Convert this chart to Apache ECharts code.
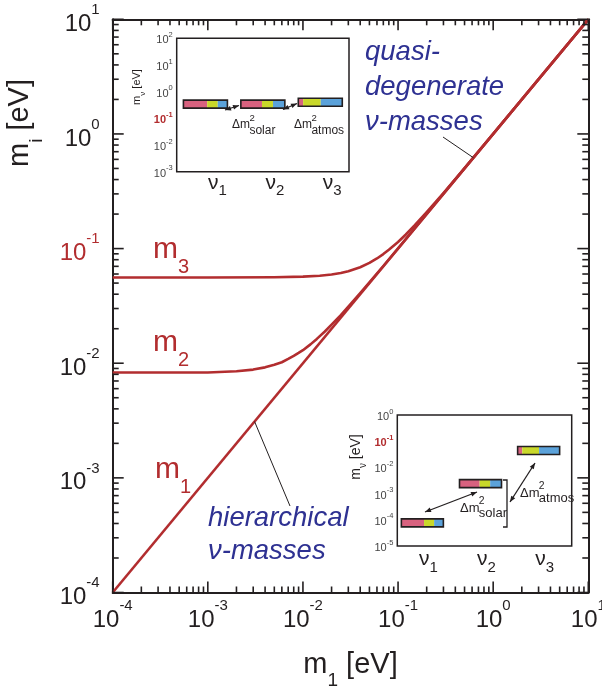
<!DOCTYPE html>
<html><head><meta charset="utf-8">
<script src="https://cdn.jsdelivr.net/npm/echarts@6/dist/echarts.min.js"></script>
<style>html,body{margin:0;padding:0;background:#fff}#c{width:602px;height:686px}</style>
</head><body><div id="c"></div>
<script>
// ---------- data ----------
const decadeTicks = [1e-4, 1e-3, 1e-2, 1e-1, 1, 10];
const minorMultipliers = [2, 3, 4, 5, 6, 7, 8, 9];
const topInsetDecades = [1e-3, 1e-2, 1e-1, 1, 10, 100];
const bottomInsetDecades = [1e-5, 1e-4, 1e-3, 1e-2, 1e-1, 1];

const m1X = [1e-4, 10];
const m1Y = [1e-4, 10];

const m2X = [1e-4, 1e-3, 2e-3, 3e-3, 4e-3, 5e-3, 6e-3, 7e-3, 8e-3, 9e-3, 1e-2, 1.2e-2, 1.4e-2, 1.7e-2, 2e-2, 2.5e-2, 3e-2, 4e-2, 5e-2, 7e-2, 0.1, 1, 10];
const m2Y = [0.0083, 0.0083, 0.0085, 0.0088, 0.0092, 0.0097, 0.0102, 0.0109, 0.0116, 0.0123, 0.0130, 0.0146, 0.0163, 0.0189, 0.0217, 0.0263, 0.0311, 0.0409, 0.0507, 0.0705, 0.1003, 1, 10];

const m3X = [1e-4, 1e-3, 5e-3, 1e-2, 1.5e-2, 2e-2, 2.5e-2, 3e-2, 4e-2, 5e-2, 6e-2, 7e-2, 8e-2, 0.1, 0.12, 0.15, 0.2, 0.3, 0.5, 1, 10];
const m3Y = [0.056, 0.056, 0.0562, 0.0569, 0.058, 0.0595, 0.0613, 0.0635, 0.0688, 0.075, 0.082, 0.0895, 0.0977, 0.114, 0.132, 0.16, 0.208, 0.305, 0.503, 1, 10];

const nuCategories = ['ν1', 'ν2', 'ν3'];
const degenerateMasses = [0.34, 0.34, 0.40];
const hierarchicalMasses = [7.6e-5, 2.4e-3, 0.044];
const electronFraction = [0.54, 0.48, 0.11];
const muonFraction = [0.24, 0.25, 0.40];
const tauFraction = [0.22, 0.27, 0.49];

// ---------- style ----------
const FONT = '"Liberation Sans", Arial, sans-serif';
const INK = '#231f20';
const RED = '#b22d2f';
const BLUE = '#2e3192';
const FLAVOR_COLORS = ['#d8627f', '#c9d82a', '#5ba2da'];

const zip = (xs, ys) => xs.map((x, i) => [x, ys[i]]);

function expLabel(redStyle) {
  return function (v) {
    const e = Math.round(Math.log10(v));
    if (e === -1 && redStyle) return '{rb|10}{rs|' + e + '}';
    return '{b|10}{s|' + e + '}';
  };
}
const mainRich = {
  b: {fontSize: 24, lineHeight: 34, verticalAlign: 'bottom', color: INK, fontFamily: FONT},
  s: {fontSize: 15, lineHeight: 15, verticalAlign: 'top', color: INK, fontFamily: FONT},
  rb: {fontSize: 24, lineHeight: 34, verticalAlign: 'bottom', color: RED, fontFamily: FONT},
  rs: {fontSize: 15, lineHeight: 15, verticalAlign: 'top', color: RED, fontFamily: FONT}
};
const insetRich = {
  b: {fontSize: 11, lineHeight: 15, verticalAlign: 'bottom', color: '#444', fontFamily: FONT},
  s: {fontSize: 7.5, lineHeight: 7.5, verticalAlign: 'top', color: '#444', fontFamily: FONT},
  rb: {fontSize: 11, lineHeight: 15, verticalAlign: 'bottom', color: RED, fontWeight: 'bold', fontFamily: FONT},
  rs: {fontSize: 7.5, lineHeight: 7.5, verticalAlign: 'top', color: RED, fontWeight: 'bold', fontFamily: FONT}
};
const nuRich = {
  n: {fontSize: 21, lineHeight: 26, verticalAlign: 'top', color: INK, fontFamily: FONT},
  d: {fontSize: 15, lineHeight: 15, verticalAlign: 'bottom', color: INK, fontFamily: FONT}
};
const nuFormatter = v => '{n|ν}{d|' + v.slice(1) + '}';

function logAxis(extra) {
  return Object.assign({
    type: 'log', logBase: 10, splitNumber: 5,
    axisLine: {show: true, onZero: false, lineStyle: {color: INK, width: 2}},
    axisTick: {show: false},
    minorTick: {show: false},
    splitLine: {show: false}
  }, extra);
}

// ---------- tick marks (scatter symbols placed through the axes) ----------
const mainTickValues = [];
decadeTicks.forEach(d => mainTickValues.push({v: d, len: 11}));
decadeTicks.slice(0, -1).forEach(d => minorMultipliers.forEach(k => mainTickValues.push({v: d * k, len: 6})));
const LO = 1e-4, HI = 10, TW = 1.6;
const mainTickData = [];
mainTickValues.forEach(({v, len}) => {
  mainTickData.push({value: [v, LO], symbolSize: [TW, len], symbolOffset: [0, -len / 2]});
  mainTickData.push({value: [v, HI], symbolSize: [TW, len], symbolOffset: [0, len / 2]});
  mainTickData.push({value: [LO, v], symbolSize: [len, TW], symbolOffset: [len / 2, 0]});
  mainTickData.push({value: [HI, v], symbolSize: [len, TW], symbolOffset: [-len / 2, 0]});
});
const insetTickData = decades => decades.slice(1, -1).map(d => ({value: [2.5, d], symbolSize: [7, 1.4], symbolOffset: [-3.5, 0]}));
const tickSeries = (xi, yi, data) => ({
  type: 'scatter', xAxisIndex: xi, yAxisIndex: yi, data: data, symbol: 'rect', silent: true, clip: false,
  itemStyle: {color: INK, opacity: 1}, z: 4, animation: false
});

// ---------- bars ----------
function barRenderer(width, height, shift) {
  return function (params, api) {
    const c = api.coord([api.value(0), api.value(1)]);
    const x0 = c[0] - width / 2 + shift, y0 = c[1] - height / 2;
    const fr = [api.value(2), api.value(3), api.value(4)];
    const children = [];
    let x = x0;
    fr.forEach((f, i) => {
      children.push({type: 'rect', shape: {x: x, y: y0, width: width * f, height: height}, style: {fill: FLAVOR_COLORS[i]}});
      x += width * f;
    });
    children.push({type: 'rect', shape: {x: x0, y: y0, width: width, height: height}, style: {fill: 'none', stroke: INK, lineWidth: 1.6}});
    return {type: 'group', children: children};
  };
}
const barData = masses => masses.map((m, i) => [i, m, electronFraction[i], muonFraction[i], tauFraction[i]]);

// ---------- annotation helpers ----------
function arrow(x1, y1, x2, y2, both, w) {
  const els = [{type: 'line', shape: {x1, y1, x2, y2}, style: {stroke: INK, lineWidth: w || 1.3}}];
  const head = (xa, ya, xb, yb) => {
    const a = Math.atan2(yb - ya, xb - xa), L = 6, W = 2.4;
    const bx = xb - L * Math.cos(a), by = yb - L * Math.sin(a);
    return {type: 'polygon', shape: {points: [[xb, yb], [bx - W * Math.sin(a), by + W * Math.cos(a)], [bx + W * Math.sin(a), by - W * Math.cos(a)]]}, style: {fill: INK}};
  };
  els.push(head(x1, y1, x2, y2));
  if (both) els.push(head(x2, y2, x1, y1));
  return els;
}
function txt(x, y, text, rich, opts) {
  return Object.assign({type: 'text', x: x, y: y,
    style: {text: text, rich: rich, fontFamily: FONT, align: 'left', verticalAlign: 'middle'}}, opts || {});
}
const tok = (size, fill, extra) => Object.assign({fontSize: size, fill: fill, fontFamily: FONT}, extra || {});
const mLabelRich = {
  m: tok(30, RED, {lineHeight: 42, verticalAlign: 'top'}),
  d: tok(20, RED, {lineHeight: 20, verticalAlign: 'bottom'})
};
const blueRich = {q: tok(27.5, BLUE, {fontStyle: 'italic'})};
function deltaLabel(x, y, sub, size, subSize) {
  const wDm = size * 1.45;
  return [
    txt(x, y, '{a|Δm}', {a: tok(size, INK)}),
    txt(x + wDm, y - size * 0.55, '{a|2}', {a: tok(size * 0.8, INK)}),
    txt(x + wDm, y + size * 0.45, '{a|' + sub + '}', {a: tok(subSize, INK)})
  ];
}
const axisNameRich = (big, small) => ({
  m: tok(big, INK, {lineHeight: big * 1.38, verticalAlign: 'top'}),
  d: tok(small, INK, {lineHeight: small, verticalAlign: 'bottom'})
});

const graphics = [].concat(
  [
    {type: 'text', x: 26, y: 123, rotation: Math.PI / 2,
      style: {text: '{m|m}{d|i}{m| [eV]}', align: 'center', verticalAlign: 'middle', rich: axisNameRich(29, 19)}},
    txt(153, 256, '{m|m}{d|3}', mLabelRich),
    txt(153, 349, '{m|m}{d|2}', mLabelRich),
    txt(155, 476, '{m|m}{d|1}', mLabelRich),
    txt(365, 52, '{q|quasi-}', blueRich),
    txt(365, 87, '{q|degenerate}', blueRich),
    txt(365, 122, '{q|ν-masses}', blueRich),
    txt(208, 518, '{q|hierarchical}', blueRich),
    txt(208, 551, '{q|ν-masses}', blueRich),
    {type: 'text', x: 139, y: 87, rotation: Math.PI / 2,
      style: {text: '{m|m}{d|ν}{m| [eV]}', align: 'center', verticalAlign: 'middle', rich: axisNameRich(11, 8)}},
    {type: 'text', x: 359, y: 457, rotation: Math.PI / 2,
      style: {text: '{m|m}{d|ν}{m| [eV]}', align: 'center', verticalAlign: 'middle', rich: axisNameRich(14, 10)}}
  ],
  deltaLabel(232, 125, 'solar', 12, 12),
  deltaLabel(294, 125, 'atmos', 12, 12),
  deltaLabel(460, 508, 'solar', 13, 13),
  deltaLabel(520, 493, 'atmos', 13, 13),
  arrow(225, 110, 239, 105.5, true, 1.3),
  arrow(283, 109.5, 297, 103.5, true, 1.3),
  arrow(425, 512, 477, 492, true, 1.3),
  arrow(510, 502, 535, 463, true, 1.3),
  [{type: 'polyline', shape: {points: [[503, 480], [507, 480], [507, 527], [503, 527]]}, style: {stroke: INK, lineWidth: 1.3, fill: 'none'}}]
).map(g => Object.assign({z: 100}, g));

const option = {
  animation: false,
  backgroundColor: '#fff',
  textStyle: {fontFamily: FONT},
  grid: [
    {left: 112.7, top: 19.3, width: 475.6, height: 573.2, containLabel: false, outerBoundsMode: 'none'},
    {left: 176.7, top: 38.3, width: 172.3, height: 133.4, show: true, borderColor: INK, borderWidth: 1.5, backgroundColor: '#fff', z: 5, containLabel: false, outerBoundsMode: 'none'},
    {left: 397.3, top: 415, width: 174.4, height: 131, show: true, borderColor: INK, borderWidth: 1.5, backgroundColor: '#fff', z: 5, containLabel: false, outerBoundsMode: 'none'}
  ],
  xAxis: [
    logAxis({gridIndex: 0, position: 'bottom', min: 1e-4, max: 10,
      axisLabel: {show: true, margin: 6, formatter: expLabel(false), rich: mainRich, showMinLabel: true, showMaxLabel: true, hideOverlap: false},
      name: '{m|m}{d|1}{m| [eV]}', nameLocation: 'middle', nameGap: 58,
      nameTextStyle: {rich: {m: {fontSize: 29, lineHeight: 40, verticalAlign: 'top', color: INK, fontFamily: FONT}, d: {fontSize: 19, lineHeight: 19, verticalAlign: 'bottom', color: INK, fontFamily: FONT}}}}),
    logAxis({gridIndex: 0, position: 'top', min: 1e-4, max: 10, axisLabel: {show: false}}),
    {type: 'category', gridIndex: 1, data: nuCategories, axisLine: {show: false}, axisTick: {show: false},
      axisLabel: {interval: 0, margin: 1, formatter: nuFormatter, rich: nuRich, padding: [0, 0, 0, 24], hideOverlap: false}},
    {type: 'category', gridIndex: 2, data: nuCategories, axisLine: {show: false}, axisTick: {show: false},
      axisLabel: {interval: 0, margin: 3, formatter: nuFormatter, rich: nuRich, padding: [0, 0, 0, 4], hideOverlap: false}},
    {type: 'value', gridIndex: 1, min: -0.5, max: 2.5, show: false},
    {type: 'value', gridIndex: 2, min: -0.5, max: 2.5, show: false}
  ],
  yAxis: [
    logAxis({gridIndex: 0, position: 'left', min: 1e-4, max: 10,
      axisLabel: {show: true, margin: 13, formatter: expLabel(true), rich: mainRich, showMinLabel: true, showMaxLabel: true, hideOverlap: false}}),
    logAxis({gridIndex: 0, position: 'right', min: 1e-4, max: 10, axisLabel: {show: false}}),
    {type: 'log', logBase: 10, gridIndex: 1, min: 1e-3, max: 100, splitNumber: 5, position: 'left',
      axisLine: {show: false}, axisTick: {show: false}, splitLine: {show: false},
      axisLabel: {margin: 4, formatter: expLabel(true), rich: insetRich, showMinLabel: true, showMaxLabel: true, hideOverlap: false}},
    {type: 'log', logBase: 10, gridIndex: 2, min: 1e-5, max: 1, splitNumber: 5, position: 'left',
      axisLine: {show: false}, axisTick: {show: false}, splitLine: {show: false},
      axisLabel: {margin: 4, formatter: expLabel(true), rich: insetRich, showMinLabel: true, showMaxLabel: true, hideOverlap: false}}
  ],
  series: [
    tickSeries(0, 0, mainTickData),
    tickSeries(4, 2, insetTickData(topInsetDecades)),
    tickSeries(5, 3, insetTickData(bottomInsetDecades)),
    {type: 'line', name: 'm3', xAxisIndex: 0, yAxisIndex: 0, data: zip(m3X, m3Y), showSymbol: false,
      lineStyle: {color: RED, width: 2.6, join: 'round'}, silent: true, z: 2},
    {type: 'line', name: 'm2', xAxisIndex: 0, yAxisIndex: 0, data: zip(m2X, m2Y), showSymbol: false,
      lineStyle: {color: RED, width: 2.6, join: 'round'}, silent: true, z: 2},
    {type: 'line', name: 'm1', xAxisIndex: 0, yAxisIndex: 0, data: zip(m1X, m1Y), showSymbol: false,
      lineStyle: {color: RED, width: 2.6}, silent: true, z: 2,
      markLine: {
        silent: true, symbol: ['none', 'none'], animation: false, label: {show: false},
        lineStyle: {color: INK, width: 1, type: 'solid'},
        data: [
          [{coord: [0.62, 0.62]}, {x: 443, y: 137}],
          [{coord: [0.0031, 0.0031]}, {x: 290, y: 506}]
        ]
      }},
    {type: 'custom', name: 'degenerate', xAxisIndex: 2, yAxisIndex: 2, data: barData(degenerateMasses),
      renderItem: barRenderer(44, 8, 0), silent: true, z: 10},
    {type: 'custom', name: 'hierarchical', xAxisIndex: 3, yAxisIndex: 3, data: barData(hierarchicalMasses),
      renderItem: barRenderer(42, 8, -4), silent: true, z: 10}
  ],
  graphic: {elements: graphics}
};

const chart = echarts.init(document.getElementById('c'), null, {renderer: 'canvas'});
chart.setOption(option);
</script>
</body></html>
